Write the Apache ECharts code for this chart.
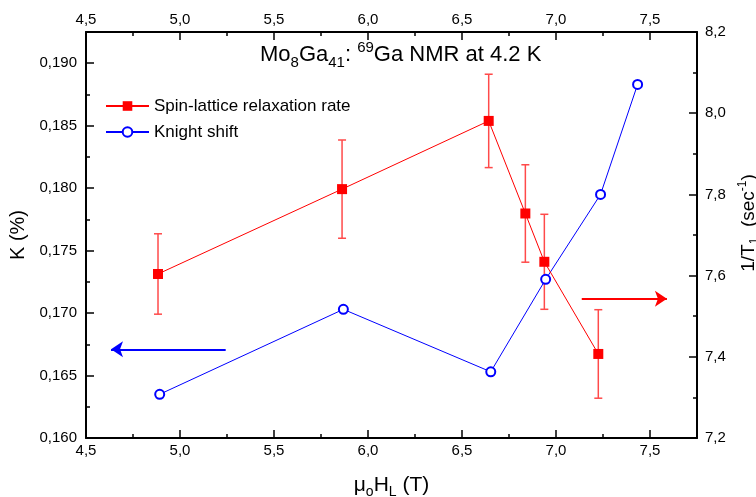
<!DOCTYPE html>
<html><head><meta charset="utf-8">
<script src="https://cdn.jsdelivr.net/npm/echarts@6/dist/echarts.min.js"></script>
<style>html,body{margin:0;padding:0;background:#fff}#c{width:756px;height:497px}</style>
</head><body><div id="c"></div>
<script>
// ---- data ----
const fieldRelax = [4.883, 5.862, 6.642, 6.837, 6.938, 7.225];
const relaxRate  = [7.604, 7.813, 7.981, 7.753, 7.634, 7.407];
const relaxErr   = [0.099, 0.121, 0.115, 0.120, 0.117, 0.109];
const fieldKnight = [4.892, 5.869, 6.653, 6.945, 7.237, 7.434];
const knightShift = [0.1635, 0.1703, 0.1653, 0.1727, 0.1795, 0.1883];
const arrowRelaxX = [7.137, 7.59];  const arrowRelaxY = 7.543;
const arrowKnightX = [5.243, 4.633]; const arrowKnightY = 0.1671;
const xTicks = {min: 4.5, max: 7.75, major: 0.5, minor: 0.25};
const yLeftTicks = {min: 0.160, max: 0.1925, major: 0.005, minor: 0.0025};
const yRightTicks = {min: 7.2, max: 8.2, major: 0.2};

const FONT = '"Liberation Sans", Arial, sans-serif';
const chart = echarts.init(document.getElementById('c'), null, {renderer: 'canvas'});

function fmtOn(step, dec) {
  return v => {
    const r = v / step;
    if (Math.abs(r - Math.round(r)) > 1e-6) return '';
    return v.toFixed(dec).replace('.', ',');
  };
}
const lineBlack = {show: true, lineStyle: {color: '#000', width: 2}};
const labelStyle = {color: '#000', fontSize: 15, fontFamily: FONT};

function xMajor(pos, withName) {
  const a = {
    type: 'value', position: pos, min: xTicks.min, max: xTicks.max, interval: xTicks.major,
    axisLine: lineBlack, splitLine: {show: false},
    axisTick: {show: true, inside: true, length: 8, lineStyle: {color: '#000', width: 1.5}},
    axisLabel: Object.assign({margin: 5, formatter: fmtOn(xTicks.major, 1)}, labelStyle)
  };
  if (withName) {
    a.name = 'μ{sub|o}H{sub|L} (T)';
    a.nameLocation = 'middle';
    a.nameGap = 33;
    a.nameTextStyle = {color: '#000', fontSize: 21, fontFamily: FONT, lineHeight: 28,
      rich: {sub: {fontSize: 14, lineHeight: 16, verticalAlign: 'bottom', fontFamily: FONT, color: '#000'}}};
  }
  return a;
}
function xMinor(pos) {
  return {
    type: 'value', position: pos, min: xTicks.min, max: xTicks.max, interval: xTicks.minor,
    axisLine: {show: false}, splitLine: {show: false}, axisLabel: {show: false},
    axisTick: {show: true, inside: true, length: 4, lineStyle: {color: '#000', width: 1.5}}
  };
}

const option = {
  animation: false,
  backgroundColor: '#fff',
  textStyle: {fontFamily: FONT},
  title: {
    text: 'Mo{sub|8}Ga{sub|41}: {sup|69}Ga NMR at 4.2 K',
    left: 260, top: 40, padding: 0,
    textStyle: {fontFamily: FONT, fontSize: 22, fontWeight: 'normal', color: '#000', lineHeight: 30,
      rich: {
        sub: {fontSize: 15, lineHeight: 18, verticalAlign: 'bottom', fontFamily: FONT, color: '#000'},
        sup: {fontSize: 15, lineHeight: 18, verticalAlign: 'top', fontFamily: FONT, color: '#000'}
      }}
  },
  legend: {
    data: ['Spin-lattice relaxation rate', 'Knight shift'],
    orient: 'vertical', left: 105, top: 96, padding: 0,
    itemWidth: 43, itemHeight: 12, itemGap: 6,
    textStyle: {fontSize: 17, color: '#000', fontFamily: FONT, lineHeight: 20},
    selectedMode: false
  },
  grid: {left: 86, right: 59, top: 32, bottom: 59, containLabel: false, outerBoundsMode: 'none'},
  xAxis: [xMajor('bottom', true), xMinor('bottom'), xMajor('top', false), xMinor('top')],
  yAxis: [
    {
      type: 'value', position: 'left', min: yLeftTicks.min, max: yLeftTicks.max, interval: yLeftTicks.major,
      axisLine: lineBlack, splitLine: {show: false},
      axisTick: {show: true, inside: true, length: 8, lineStyle: {color: '#000', width: 1.5}},
      axisLabel: Object.assign({margin: 9, formatter: fmtOn(yLeftTicks.major, 3)}, labelStyle),
      name: 'K (%)', nameLocation: 'middle', nameGap: 53, nameRotate: 90,
      nameTextStyle: {color: '#000', fontSize: 20, fontFamily: FONT}
    },
    {
      type: 'value', position: 'left', min: yLeftTicks.min, max: yLeftTicks.max, interval: yLeftTicks.minor,
      axisLine: {show: false}, splitLine: {show: false}, axisLabel: {show: false},
      axisTick: {show: true, inside: true, length: 4, lineStyle: {color: '#000', width: 1.5}}
    },
    {
      type: 'value', position: 'right', min: yRightTicks.min, max: yRightTicks.max, interval: yRightTicks.major,
      axisLine: lineBlack, splitLine: {show: false},
      axisTick: {show: true, inside: true, length: 8, lineStyle: {color: '#000', width: 1.5}},
      minorTick: {show: true, splitNumber: 2, length: 4, lineStyle: {color: '#000', width: 1.5}},
      axisLabel: Object.assign({margin: 8, formatter: fmtOn(yRightTicks.major, 1)}, labelStyle),
      name: '1/T{sub|1}  (sec{sup|-1})', nameLocation: 'middle', nameGap: 36, nameRotate: 90,
      nameTextStyle: {color: '#000', fontSize: 19, fontFamily: FONT, lineHeight: 24, padding: [0, 0, 0, 24],
        rich: {
          sub: {fontSize: 12, lineHeight: 14, verticalAlign: 'bottom', fontFamily: FONT, color: '#000'},
          sup: {fontSize: 12, lineHeight: 14, verticalAlign: 'top', fontFamily: FONT, color: '#000'}
        }}
    }
  ],
  series: [
    {
      name: 'Knight shift', type: 'line', xAxisIndex: 0, yAxisIndex: 0,
      data: fieldKnight.map((x, i) => [x, knightShift[i]]),
      symbol: 'emptyCircle', symbolSize: 9,
      itemStyle: {color: '#0000ff', borderWidth: 1.5},
      lineStyle: {color: '#0000ff', width: 1},
      z: 3, emphasis: {disabled: true},
      markLine: {
        silent: true, symbol: ['none', 'arrow'], symbolSize: 12,
        label: {show: false}, emphasis: {disabled: true},
        lineStyle: {color: '#0000ff', width: 2, type: 'solid'},
        data: [[{coord: [arrowKnightX[0], arrowKnightY]}, {coord: [arrowKnightX[1], arrowKnightY]}]]
      }
    },
    {
      name: 'Spin-lattice relaxation rate', type: 'line', xAxisIndex: 0, yAxisIndex: 2,
      data: fieldRelax.map((x, i) => [x, relaxRate[i]]),
      symbol: 'rect', symbolSize: 10,
      itemStyle: {color: '#ff0000'},
      lineStyle: {color: '#ff0000', width: 1},
      z: 4, emphasis: {disabled: true},
      markLine: {
        silent: true, symbol: ['none', 'arrow'], symbolSize: 12,
        label: {show: false}, emphasis: {disabled: true},
        lineStyle: {color: '#ff0000', width: 2, type: 'solid'},
        data: [[{coord: [arrowRelaxX[0], arrowRelaxY]}, {coord: [arrowRelaxX[1], arrowRelaxY]}]]
      }
    },
    {
      name: 'errors', type: 'custom', xAxisIndex: 0, yAxisIndex: 2, z: 2, silent: true,
      data: fieldRelax.map((x, i) => [x, relaxRate[i] - relaxErr[i], relaxRate[i] + relaxErr[i]]),
      encode: {x: 0, y: [1, 2]},
      renderItem: (params, api) => {
        const x = api.value(0);
        const pHi = api.coord([x, api.value(2)]);
        const pLo = api.coord([x, api.value(1)]);
        const w = 4;
        const style = {stroke: '#ff4a4a', lineWidth: 1.5};
        return {type: 'group', children: [
          {type: 'line', shape: {x1: pHi[0], y1: pHi[1], x2: pLo[0], y2: pLo[1]}, style: style},
          {type: 'line', shape: {x1: pHi[0] - w, y1: pHi[1], x2: pHi[0] + w, y2: pHi[1]}, style: style},
          {type: 'line', shape: {x1: pLo[0] - w, y1: pLo[1], x2: pLo[0] + w, y2: pLo[1]}, style: style}
        ]};
      }
    }
  ]
};
chart.setOption(option);
</script></body></html>
